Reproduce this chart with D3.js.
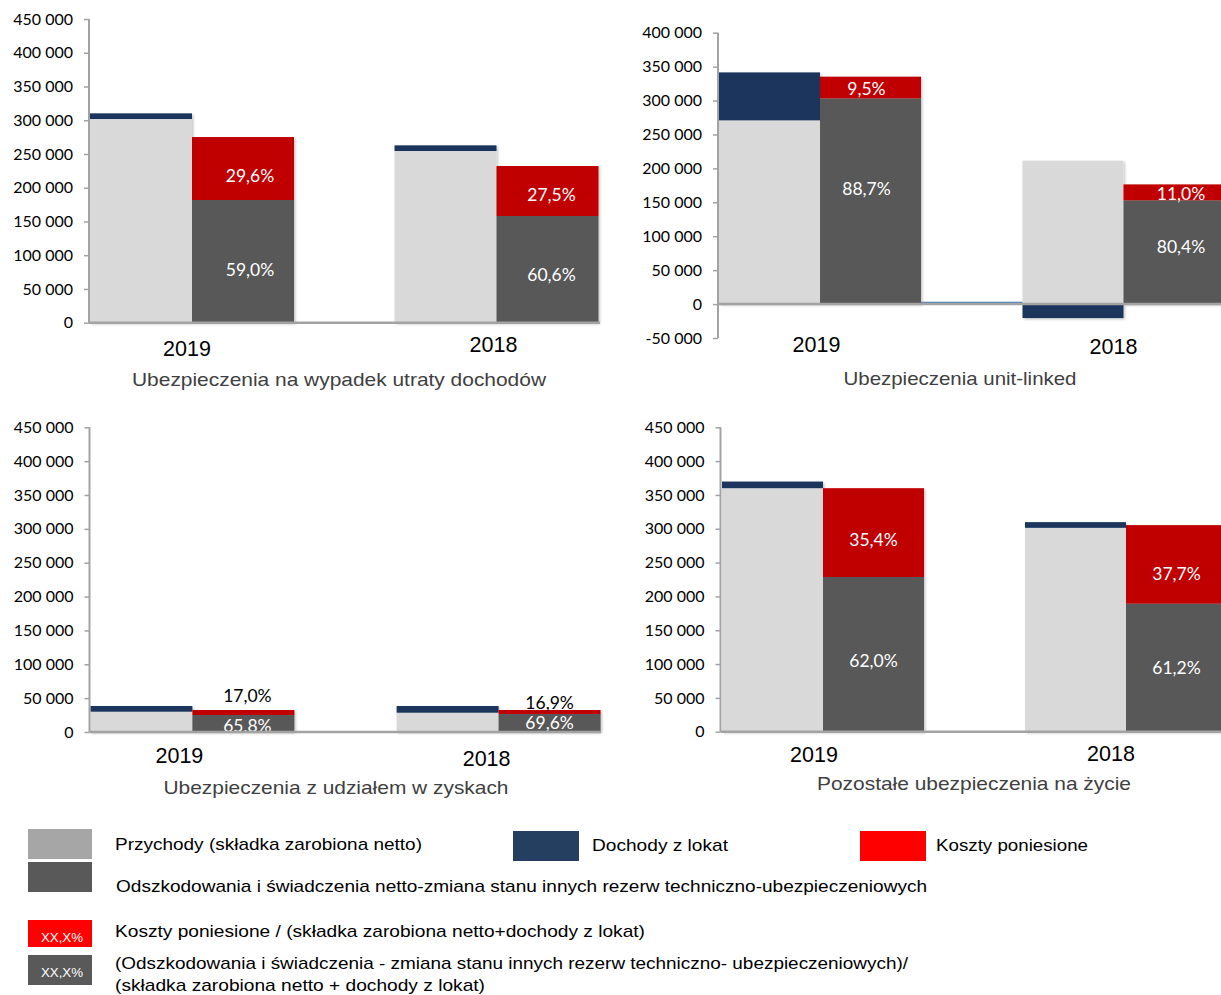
<!DOCTYPE html>
<html><head><meta charset="utf-8">
<script src="https://cdn.jsdelivr.net/npm/d3@7"></script>
<style>body{margin:0;background:#fff}svg{display:block}</style>
</head><body>
<script>
// ---------- DATA ----------
const years = ["2019", "2018"];

// Ubezpieczenia na wypadek utraty dochodów
const p1Title = "Ubezpieczenia na wypadek utraty dochodów";
const p1Premium = [301800, 254400];
const p1Income = [8400, 8400];
const p1Claims = [181800, 158100];
const p1Costs = [93300, 74100];
const p1CostPct = ["29,6%", "27,5%"];
const p1ClaimPct = ["59,0%", "60,6%"];

// Ubezpieczenia unit-linked
const p2Title = "Ubezpieczenia unit-linked";
const p2Premium = [270800, 211400];
const p2Income = [70700, -20600];
const p2Claims = [303200, 152900];
const p2Costs = [32000, 23500];
const p2CostPct = ["9,5%", "11,0%"];
const p2ClaimPct = ["88,7%", "80,4%"];

// Ubezpieczenia z udziałem w zyskach
const p3Title = "Ubezpieczenia z udziałem w zyskach";
const p3Premium = [30000, 28500];
const p3Income = [8400, 9900];
const p3Claims = [25100, 26600];
const p3Costs = [7400, 5900];
const p3CostPct = ["17,0%", "16,9%"];
const p3ClaimPct = ["65,8%", "69,6%"];

// Pozostałe ubezpieczenia na życie
const p4Title = "Pozostałe ubezpieczenia na życie";
const p4Premium = [360000, 301400];
const p4Income = [9800, 8400];
const p4Claims = [228700, 189300];
const p4Costs = [131300, 116100];
const p4CostPct = ["35,4%", "37,7%"];
const p4ClaimPct = ["62,0%", "61,2%"];

const ticks0to450 = [0, 50000, 100000, 150000, 200000, 250000, 300000, 350000, 400000, 450000];
const ticksM50to400 = [-50000, 0, 50000, 100000, 150000, 200000, 250000, 300000, 350000, 400000];

const legendLabels = [
  "Przychody (składka zarobiona netto)",
  "Dochody z lokat",
  "Koszty poniesione",
  "Odszkodowania i świadczenia netto-zmiana stanu innych rezerw techniczno-ubezpieczeniowych"
];
const legendPctLabels = [
  ["Koszty poniesione / (składka zarobiona netto+dochody z lokat)"],
  ["(Odszkodowania i świadczenia - zmiana stanu innych rezerw techniczno- ubezpieczeniowych)/",
   "(składka zarobiona netto + dochody z lokat)"]
];
const pctSample = "XX,X%";

// ---------- STYLE / LAYOUT ----------
const C = {light: "#d9d9d9", navy: "#1b365d", red: "#c00000", dark: "#595959", axis: "#a3a3a3"};
const W = 1221, H = 995;

const panels = [
  {title: p1Title, premium: p1Premium, income: p1Income, claims: p1Claims, costs: p1Costs, costPct: p1CostPct, claimPct: p1ClaimPct,
   ticks: ticks0to450, yDomain: [0, 450000], yRange: [322.7, 19], axisX: 89, xRange: [192, 496.5], axisEnd: 600, barW: 102,
   yearY: [348.7, 345], yearDx: [-5, -3], titleX: 339, titleY: 379.3, titleLen: 414,
   costMode: "inside", costDy: [7, 4], claimDy: [8, 5], labelDx: [7, 4]},
  {title: p2Title, premium: p2Premium, income: p2Income, claims: p2Claims, costs: p2Costs, costPct: p2CostPct, claimPct: p2ClaimPct,
   ticks: ticksM50to400, yDomain: [-50000, 400000], yRange: [338, 32.7], axisX: 718, xRange: [820, 1123.5], axisEnd: 1221, barW: 101,
   yearY: [345, 346.7], yearDx: [-3.5, -10], titleX: 960, titleY: 378, titleLen: 233,
   costMode: "inside", costDy: [1, 1], claimDy: [-13, -6], labelDx: [-4, 7], connector: true},
  {title: p3Title, premium: p3Premium, income: p3Income, claims: p3Claims, costs: p3Costs, costPct: p3CostPct, claimPct: p3ClaimPct,
   ticks: ticks0to450, yDomain: [0, 450000], yRange: [732, 427.3], axisX: 89.5, xRange: [192.4, 498.6], axisEnd: 601, barW: 102,
   yearY: [756, 759], yearDx: [-13, -12], titleX: 336, titleY: 787, titleLen: 345,
   costMode: "above", costDy: [-14, -7], claimDy: [1.5, 0], labelDx: [4, 0]},
  {title: p4Title, premium: p4Premium, income: p4Income, claims: p4Claims, costs: p4Costs, costPct: p4CostPct, claimPct: p4ClaimPct,
   ticks: ticks0to450, yDomain: [0, 450000], yRange: [731.7, 427.3], axisX: 720.5, xRange: [823, 1126], axisEnd: 1221, barW: 101,
   yearY: [755, 754], yearDx: [-9, -15], titleX: 974, titleY: 783, titleLen: 314,
   costMode: "inside", costDy: [6.5, 9], claimDy: [6, 0], labelDx: [0, 0]}
];

const fmt = v => {
  const s = d3.format(",")(Math.abs(v)).replace(/,/g, " ");
  return (v < 0 ? "-" : "") + s;
};

const svg = d3.select("body").append("svg").attr("width", W).attr("height", H)
  .style("font-family", "'Liberation Sans', Arial, sans-serif");

const defs = svg.append("defs");
const f = defs.append("filter").attr("id", "sh").attr("x", "-10%").attr("y", "-10%").attr("width", "130%").attr("height", "130%");
f.append("feDropShadow").attr("dx", 1.5).attr("dy", 1.5).attr("stdDeviation", 1.2)
  .attr("flood-color", "#000").attr("flood-opacity", 0.22);

panels.forEach(p => {
  const g = svg.append("g");
  const y = d3.scaleLinear().domain(p.yDomain).range(p.yRange);
  const x = d3.scalePoint().domain(years).range(p.xRange);

  const rows = years.map((yr, i) => ({
    yr, i, premium: p.premium[i], income: p.income[i], claims: p.claims[i], costs: p.costs[i],
    costPct: p.costPct[i], claimPct: p.claimPct[i]
  }));

  const bars = g.append("g").attr("filter", "url(#sh)");
  // revenue column: premium + income
  bars.selectAll(".prem").data(rows).join("rect")
    .attr("x", d => x(d.yr) - p.barW).attr("width", p.barW)
    .attr("y", d => y(d.premium)).attr("height", d => y(0) - y(d.premium))
    .attr("fill", C.light);
  bars.selectAll(".inc").data(rows).join("rect")
    .attr("x", d => x(d.yr) - p.barW).attr("width", p.barW)
    .attr("y", d => d.income >= 0 ? y(d.premium + d.income) : y(0))
    .attr("height", d => d.income >= 0 ? y(d.premium) - y(d.premium + d.income) : y(d.income) - y(0))
    .attr("fill", C.navy);
  // expense column: claims + costs
  bars.selectAll(".clm").data(rows).join("rect")
    .attr("x", d => x(d.yr)).attr("width", p.barW)
    .attr("y", d => y(d.claims)).attr("height", d => y(0) - y(d.claims))
    .attr("fill", C.dark);
  bars.selectAll(".cst").data(rows).join("rect")
    .attr("x", d => x(d.yr)).attr("width", p.barW)
    .attr("y", d => y(d.claims + d.costs)).attr("height", d => y(d.claims) - y(d.claims + d.costs))
    .attr("fill", C.red);

  if (p.connector) {
    g.append("line")
      .attr("x1", x(years[0]) + p.barW).attr("x2", x(years[1]) - p.barW)
      .attr("y1", y(0) - 1.5).attr("y2", y(0) - 1.5)
      .attr("stroke", "#4a7ebb").attr("stroke-width", 1.5);
  }

  // percentage labels
  const lbl = g.append("g").style("font-family", "Lato, 'Open Sans', sans-serif").style("font-size", "17.5px")
    .attr("text-anchor", "middle").attr("dominant-baseline", "central");
  lbl.selectAll(".lc").data(rows).join("text")
    .attr("x", d => x(d.yr) + p.barW / 2 + p.labelDx[d.i])
    .attr("y", d => p.costMode === "inside"
      ? (y(d.claims) + y(d.claims + d.costs)) / 2 + p.costDy[d.i]
      : y(d.claims + d.costs) + p.costDy[d.i])
    .attr("fill", p.costMode === "inside" ? "#fff" : "#000")
    .text(d => d.costPct);
  lbl.selectAll(".lm").data(rows).join("text")
    .attr("x", d => x(d.yr) + p.barW / 2 + p.labelDx[d.i])
    .attr("y", d => (y(0) + y(d.claims)) / 2 + p.claimDy[d.i])
    .attr("fill", "#fff")
    .text(d => d.claimPct);

  // y axis
  const ax = g.append("g").attr("transform", `translate(${p.axisX},0)`)
    .call(d3.axisLeft(y).tickValues(p.ticks).tickFormat(fmt).tickSize(5).tickPadding(11));
  ax.select(".domain").attr("stroke", C.axis).attr("stroke-width", 2)
    .attr("d", `M0,${p.yRange[1]}V${p.yRange[0]}`);
  ax.selectAll(".tick line").attr("stroke", C.axis).attr("stroke-width", 1.5);
  ax.selectAll(".tick text").attr("fill", "#000")
    .style("font-family", "Lato, 'Open Sans', sans-serif").style("font-size", "16px");

  // zero baseline
  g.append("line").attr("x1", p.axisX).attr("x2", p.axisEnd).attr("y1", y(0)).attr("y2", y(0))
    .attr("stroke", C.axis).attr("stroke-width", 2.5);

  // year labels
  g.selectAll(".yr").data(rows).join("text")
    .attr("x", d => x(d.yr) + p.yearDx[d.i]).attr("y", d => p.yearY[d.i])
    .attr("text-anchor", "middle").attr("dominant-baseline", "central")
    .style("font-size", "21.5px").attr("fill", "#000")
    .text(d => d.yr);

  // subtitle
  g.append("text").attr("x", p.titleX).attr("y", p.titleY)
    .attr("text-anchor", "middle").attr("dominant-baseline", "central")
    .style("font-size", "18.5px").attr("fill", "#404040")
    .attr("textLength", p.titleLen).attr("lengthAdjust", "spacingAndGlyphs")
    .text(p.title);
});

// ---------- LEGEND ----------
const leg = svg.append("g").style("font-size", "17px");
const legendItems = [
  {color: "#a6a6a6", x: 28, y: 829, w: 64, h: 30, tx: 115, ty: 844, tl: 307, label: legendLabels[0]},
  {color: "#243f60", x: 513, y: 831, w: 66, h: 30, tx: 592, ty: 845, tl: 136, label: legendLabels[1]},
  {color: "#ff0000", x: 860, y: 831, w: 66, h: 30, tx: 936, ty: 845, tl: 152, label: legendLabels[2]},
  {color: "#595959", x: 28, y: 862, w: 64, h: 30, tx: 116, ty: 886, tl: 811, label: legendLabels[3]}
];
legendItems.forEach(it => {
  leg.append("rect").attr("x", it.x).attr("y", it.y).attr("width", it.w).attr("height", it.h).attr("fill", it.color);
  leg.append("text").attr("x", it.tx).attr("y", it.ty).attr("dominant-baseline", "central")
    .attr("fill", "#000").attr("textLength", it.tl).attr("lengthAdjust", "spacingAndGlyphs").text(it.label);
});

const pctItems = [
  {color: "#ff0000", y: 920, h: 27, sy: 937, lines: legendPctLabels[0], ly: [931], ll: [530]},
  {color: "#595959", y: 955, h: 30, sy: 972, lines: legendPctLabels[1], ly: [963, 985], ll: [793, 370]}
];
pctItems.forEach(it => {
  leg.append("rect").attr("x", 28).attr("y", it.y).attr("width", 64).attr("height", it.h).attr("fill", it.color);
  leg.append("text").attr("x", 62).attr("y", it.sy).attr("text-anchor", "middle").attr("dominant-baseline", "central")
    .style("font-size", "13px").attr("fill", "#fff")
    .attr("textLength", 42).attr("lengthAdjust", "spacingAndGlyphs").text(pctSample);
  it.lines.forEach((ln, k) => {
    leg.append("text").attr("x", 115).attr("y", it.ly[k]).attr("dominant-baseline", "central")
      .attr("fill", "#000").attr("textLength", it.ll[k]).attr("lengthAdjust", "spacingAndGlyphs").text(ln);
  });
});
</script>
</body></html>
